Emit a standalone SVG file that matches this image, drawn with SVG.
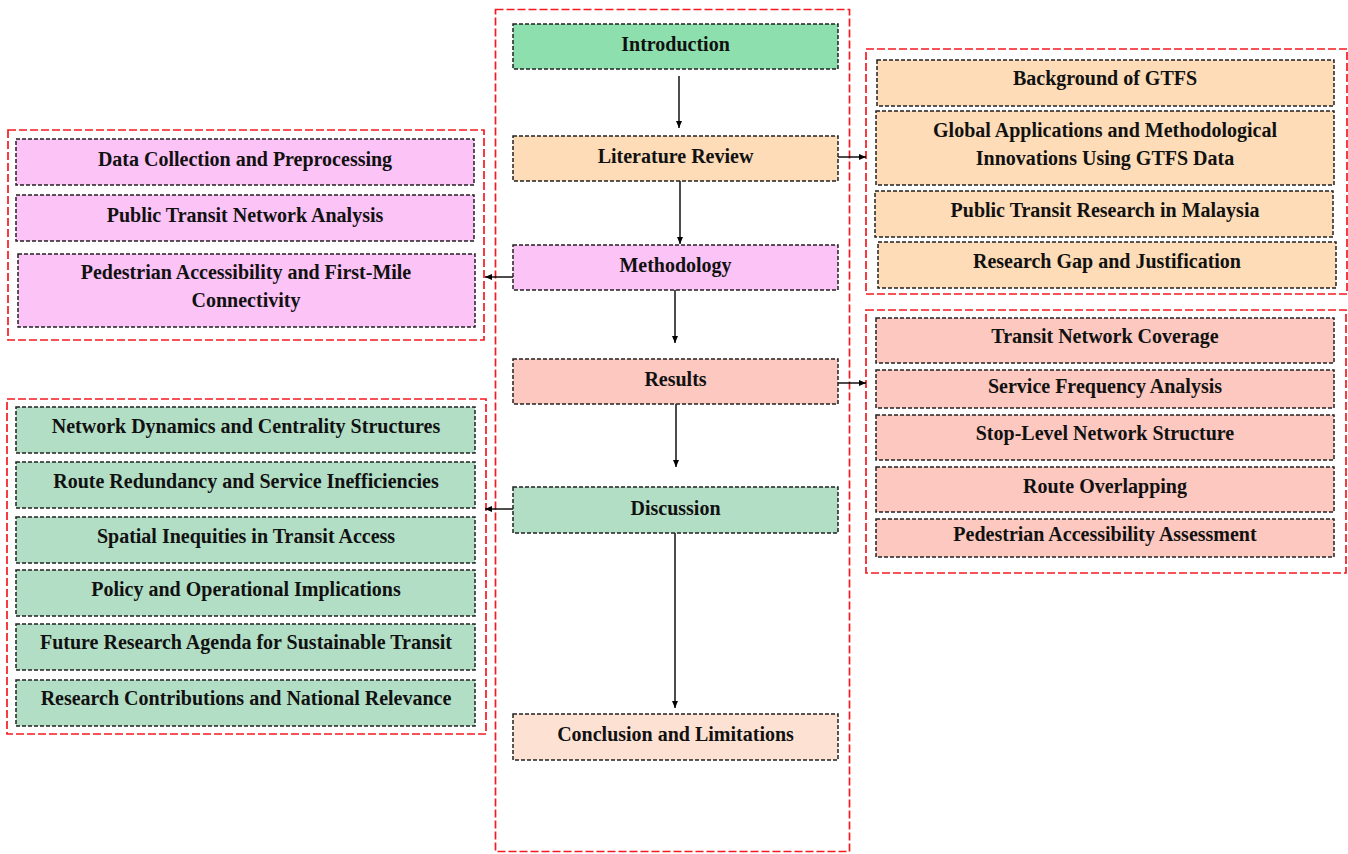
<svg xmlns="http://www.w3.org/2000/svg" width="1348" height="854" viewBox="0 0 1348 854">
<defs>
<marker id="ah" markerWidth="8" markerHeight="8" refX="7" refY="4" orient="auto" markerUnits="userSpaceOnUse">
<path d="M0,1 L7,4 L0,7 Z" fill="#000"/>
</marker>
<style>
.grp{fill:none;stroke:#f51a22;stroke-width:1.7;stroke-dasharray:8,3}
.bx{stroke:#222;stroke-width:1.5;stroke-dasharray:4,2}
.t{font-family:"Liberation Serif","Times New Roman",serif;font-weight:bold;font-size:20px;fill:#111;text-anchor:middle}
.c{stroke:#000;stroke-width:1.4;fill:none;marker-end:url(#ah)}
.g1{fill:#8edfae}.lit{fill:#fddcb7}.pk{fill:#fcc3f7}.rs{fill:#fcc8bf}.dg{fill:#b3dec6}.cl{fill:#fde2d3}
</style>
</defs>
<rect width="1348" height="854" fill="#fff"/>
<g id="frames">
<rect class="grp" x="495.5" y="9.5" width="354" height="842"/>
<rect class="grp" x="8" y="130" width="476" height="210"/>
<rect class="grp" x="7" y="399" width="479" height="335"/>
<rect class="grp" x="866" y="49" width="481" height="245"/>
<rect class="grp" x="866" y="310" width="480" height="263"/>
</g>
<g id="connectors">
<line class="c" x1="679" y1="76" x2="679" y2="128"/>
<line class="c" x1="680" y1="181" x2="680" y2="244"/>
<line class="c" x1="675" y1="290" x2="675" y2="343"/>
<line class="c" x1="676" y1="404" x2="676" y2="467"/>
<line class="c" x1="675" y1="533" x2="675" y2="708"/>
<line class="c" x1="838" y1="157" x2="866" y2="157"/>
<line class="c" x1="838" y1="383" x2="866" y2="383"/>
<line class="c" x1="513" y1="277" x2="485" y2="277"/>
<line class="c" x1="513" y1="509" x2="485" y2="509"/>
</g>
<g id="introduction"><rect class="bx g1" x="513" y="24" width="325" height="45"/><text class="t" x="675.5" y="51">Introduction</text></g>
<g id="literature-review"><rect class="bx lit" x="513" y="136" width="325" height="45"/><text class="t" x="675.5" y="163">Literature Review</text></g>
<g id="methodology"><rect class="bx pk" x="513" y="245" width="325" height="45"/><text class="t" x="675.5" y="272">Methodology</text></g>
<g id="results"><rect class="bx rs" x="513" y="359" width="325" height="45"/><text class="t" x="675.5" y="386">Results</text></g>
<g id="discussion"><rect class="bx dg" x="513" y="487" width="325" height="46"/><text class="t" x="675.5" y="515">Discussion</text></g>
<g id="conclusion"><rect class="bx cl" x="513" y="714" width="325" height="46"/><text class="t" x="675.5" y="741">Conclusion and Limitations</text></g>

<g id="m-data"><rect class="bx pk" x="16" y="139" width="458" height="46"/><text class="t" x="245" y="166">Data Collection and Preprocessing</text></g>
<g id="m-network"><rect class="bx pk" x="16" y="195" width="458" height="46"/><text class="t" x="245" y="222">Public Transit Network Analysis</text></g>
<g id="m-ped"><rect class="bx pk" x="18" y="254" width="457" height="73"/><text class="t" x="246" y="279">Pedestrian Accessibility and First-Mile</text><text class="t" x="246" y="307">Connectivity</text></g>

<g id="d-1"><rect class="bx dg" x="16" y="407" width="459" height="46"/><text class="t" x="246" y="433">Network Dynamics and Centrality Structures</text></g>
<g id="d-2"><rect class="bx dg" x="16" y="462" width="459" height="46"/><text class="t" x="246" y="488">Route Redundancy and Service Inefficiencies</text></g>
<g id="d-3"><rect class="bx dg" x="16" y="517" width="459" height="46"/><text class="t" x="246" y="543">Spatial Inequities in Transit Access</text></g>
<g id="d-4"><rect class="bx dg" x="16" y="570" width="459" height="46"/><text class="t" x="246" y="596">Policy and Operational Implications</text></g>
<g id="d-5"><rect class="bx dg" x="16" y="624" width="459" height="46"/><text class="t" x="246" y="649">Future Research Agenda for Sustainable Transit</text></g>
<g id="d-6"><rect class="bx dg" x="16" y="680" width="459" height="46"/><text class="t" x="246" y="705">Research Contributions and National Relevance</text></g>

<g id="l-1"><rect class="bx lit" x="877" y="60" width="457" height="46"/><text class="t" x="1105" y="85">Background of GTFS</text></g>
<g id="l-2"><rect class="bx lit" x="876" y="111" width="458" height="74"/><text class="t" x="1105" y="137">Global Applications and Methodological</text><text class="t" x="1105" y="165">Innovations Using GTFS Data</text></g>
<g id="l-3"><rect class="bx lit" x="875" y="191" width="458" height="46"/><text class="t" x="1105" y="217">Public Transit Research in Malaysia</text></g>
<g id="l-4"><rect class="bx lit" x="878" y="242" width="458" height="46"/><text class="t" x="1107" y="268">Research Gap and Justification</text></g>

<g id="r-1"><rect class="bx rs" x="876" y="318" width="458" height="45"/><text class="t" x="1105" y="343">Transit Network Coverage</text></g>
<g id="r-2"><rect class="bx rs" x="876" y="370" width="458" height="38"/><text class="t" x="1105" y="393">Service Frequency Analysis</text></g>
<g id="r-3"><rect class="bx rs" x="876" y="415" width="458" height="45"/><text class="t" x="1105" y="440">Stop-Level Network Structure</text></g>
<g id="r-4"><rect class="bx rs" x="876" y="467" width="458" height="45"/><text class="t" x="1105" y="493">Route Overlapping</text></g>
<g id="r-5"><rect class="bx rs" x="876" y="519" width="458" height="38"/><text class="t" x="1105" y="541">Pedestrian Accessibility Assessment</text></g>
</svg>
